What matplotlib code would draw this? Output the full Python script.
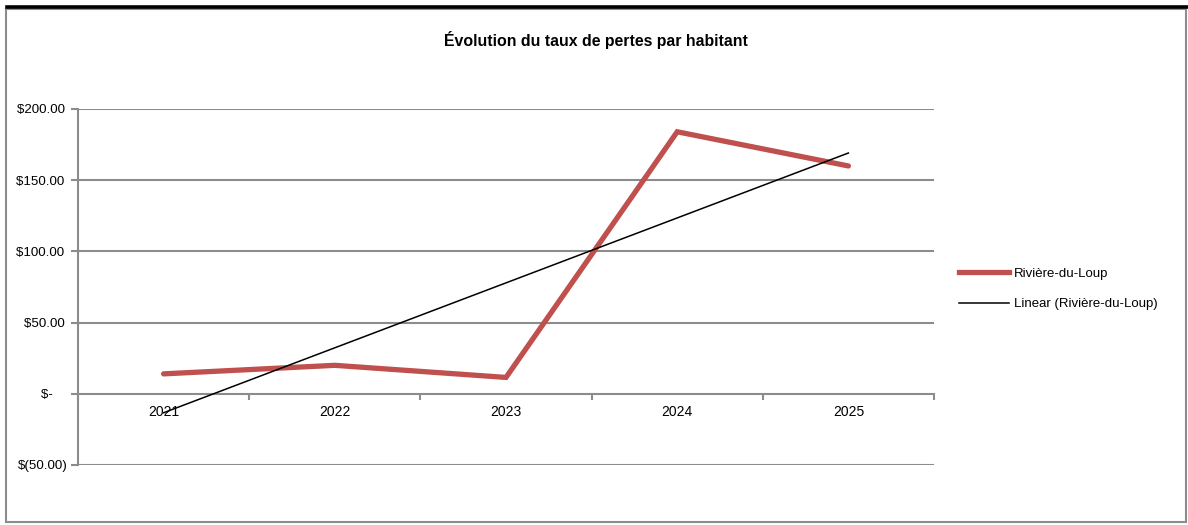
import matplotlib
matplotlib.use("Agg")
import matplotlib.pyplot as plt
import numpy as np
from matplotlib.patches import Rectangle
from matplotlib.lines import Line2D

plt.rcParams['font.family'] = ['Liberation Sans', 'DejaVu Sans']

years = ["2021", "2022", "2023", "2024", "2025"]
values = [14, 20, 11.5, 184, 160]
series_name = "Rivière-du-Loup"
trend_name = "Linear (Rivière-du-Loup)"
yticks = [-50, 0, 50, 100, 150, 200]
ytick_labels = ["$(50.00)", "$-    ", "$50.00 ", "$100.00 ", "$150.00 ", "$200.00 "]
title = "Évolution du taux de pertes par habitant"

W, H = 1188, 525
fig = plt.figure(figsize=(W / 100, H / 100), dpi=100)
ax = fig.add_axes([78 / W, 1 - 465 / H, (934 - 78) / W, (465 - 109) / H])

x = np.arange(1, len(years) + 1)
grid_c = "#8c8c8c"

for yv in yticks:
    if yv != 0:
        ax.axhline(yv, color=grid_c, lw=1.5, zorder=1)

ax.plot(x, values, color="#C0504D", lw=3.8, solid_capstyle="round",
        solid_joinstyle="miter", zorder=3, label=series_name)
coef = np.polyfit(x, values, 1)
ax.plot(x, np.polyval(coef, x), color="black", lw=1.1, zorder=4, label=trend_name)

ax.set_xlim(0.5, len(years) + 0.5)
ax.set_ylim(-50, 200)
ax.set_yticks(yticks)
ax.set_yticklabels(ytick_labels, fontsize=9.6)
ax.tick_params(axis='y', length=5, width=1.5, color=grid_c, pad=2)

ax.set_xticks(np.arange(0.5, len(years) + 1, 1))
ax.set_xticklabels([])
ax.set_xticks(x, minor=True)
ax.set_xticklabels(years, minor=True, fontsize=9.6)
ax.tick_params(axis='x', which='major', length=4, width=1.5, color=grid_c, direction='out')
ax.tick_params(axis='x', which='minor', length=0, pad=8)

for s in ['top', 'right']:
    ax.spines[s].set_visible(False)
ax.spines['bottom'].set_position(('data', 0))
ax.spines['bottom'].set_color(grid_c)
ax.spines['bottom'].set_linewidth(1.5)
ax.spines['left'].set_color(grid_c)
ax.spines['left'].set_linewidth(1.5)

fig.text(596 / W, 1 - 40 / H, title, ha='center', va='center', fontsize=11.4,
         fontweight='bold')

fig.legend(handles=[Line2D([], [], color="#C0504D", lw=3.8),
                    Line2D([], [], color="black", lw=1.1)],
           labels=[series_name, trend_name], loc='center left',
           bbox_to_anchor=(947 / W, 1 - 289 / H), frameon=False, fontsize=9.5,
           handlelength=3.8, handletextpad=0.35, labelspacing=1.4)

# outer frame
fig.add_artist(Rectangle((6 / W, 1 - 522 / H), (1186 - 6) / W, (522 - 9) / H,
                         transform=fig.transFigure, fill=False,
                         edgecolor="#8c8c8c", lw=1.5))
fig.add_artist(Line2D([7 / W, 1.0], [1 - 6.5 / H, 1 - 6.5 / H],
                      transform=fig.transFigure, color="black", lw=2.6))

fig.savefig("out.png", dpi=100, facecolor="white")
